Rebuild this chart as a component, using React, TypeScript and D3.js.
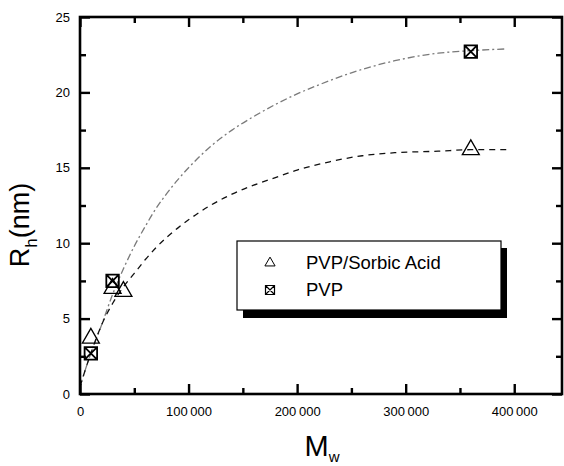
import { useEffect, useRef } from 'react';
import * as d3 from 'd3';

// measured points
const sorbicMw = [10000, 30000, 40000, 360000];
const sorbicRh = [3.7, 7.0, 6.8, 16.2];
const pvpMw = [10000, 30000, 360000];
const pvpRh = [2.7, 7.5, 22.7];

// fitted curves
const pvpFitMw = [0, 10000, 20000, 30000, 40000, 50000, 60000, 70000, 80000, 90000, 100000, 120000, 140000, 160000, 180000, 200000, 220000, 250000, 290000, 330000, 360000, 392000];
const pvpFitRh = [0.5, 2.7, 4.6, 6.6, 8.3, 9.8, 11.1, 12.3, 13.3, 14.2, 15.0, 16.4, 17.5, 18.4, 19.2, 19.9, 20.5, 21.3, 22.1, 22.6, 22.77, 22.88];
const sorbicFitMw = [0, 10000, 20000, 30000, 40000, 50000, 60000, 70000, 80000, 90000, 100000, 110000, 120000, 140000, 160000, 180000, 200000, 230000, 260000, 290000, 330000, 360000, 396000];
const sorbicFitRh = [0.5, 2.7, 4.6, 6.0, 7.1, 8.0, 8.9, 9.7, 10.4, 11.0, 11.55, 12.05, 12.5, 13.25, 13.85, 14.35, 14.85, 15.4, 15.8, 16.0, 16.1, 16.2, 16.2];

const xMajorTicks = [0, 100000, 200000, 300000, 400000];
const xMinorTicks = [50000, 150000, 250000, 350000];
const yMajorTicks = [0, 5, 10, 15, 20, 25];
const yMinorTicks = [2.5, 7.5, 12.5, 17.5, 22.5];
const legendLabels = ['PVP/Sorbic Acid', 'PVP'];

const FONT = '"Liberation Sans", Arial, Helvetica, sans-serif';

const App = () => {
    const svgRef = useRef<SVGSVGElement>(null);

    useEffect(() => {
        document.body.style.margin = '0';
        document.body.style.overflow = 'hidden';
        document.documentElement.style.overflow = 'hidden';

        const width = 564;
        const height = 466;
        const margin = { top: 17, right: 2, bottom: 72, left: 80 };

        const svg = d3.select(svgRef.current);
        svg.selectAll('*').remove();
        svg.attr('width', width).attr('height', height);

        const x = d3.scaleLinear().domain([0, 444000]).range([margin.left, width - margin.right]);
        const y = d3.scaleLinear().domain([0, 25]).range([height - margin.bottom, margin.top]);

        const x0 = x.range()[0];
        const x1 = x.range()[1];
        const y0 = y.range()[0];
        const y1 = y.range()[1];

        // ---------- fit curves ----------
        const line = d3
            .line<[number, number]>()
            .x((d) => x(d[0]))
            .y((d) => y(d[1]))
            .curve(d3.curveMonotoneX);

        svg.append('path')
            .attr('d', line(pvpFitMw.map((m, i) => [m, pvpFitRh[i]]) as [number, number][]))
            .attr('fill', 'none')
            .attr('stroke', '#7a7a7a')
            .attr('stroke-width', 1.3)
            .attr('stroke-dasharray', '7,3,2,3');

        svg.append('path')
            .attr('d', line(sorbicFitMw.map((m, i) => [m, sorbicFitRh[i]]) as [number, number][]))
            .attr('fill', 'none')
            .attr('stroke', '#111')
            .attr('stroke-width', 1.3)
            .attr('stroke-dasharray', '6,5');

        // ---------- markers ----------
        const tri = d3.symbol().type(d3.symbolTriangle);
        const boxX = (s: number) =>
            `M${-s / 2},${-s / 2}H${s / 2}V${s / 2}H${-s / 2}Z` +
            `M${-s / 2},${-s / 2}L${s / 2},${s / 2}M${s / 2},${-s / 2}L${-s / 2},${s / 2}`;

        svg.selectAll('.tri')
            .data(sorbicMw)
            .enter()
            .append('path')
            .attr('d', tri.size(125)()!)
            .attr('transform', (d, i) => `translate(${x(d)},${y(sorbicRh[i])})`)
            .attr('fill', 'none')
            .attr('stroke', '#000')
            .attr('stroke-width', 1.3);

        svg.selectAll('.box')
            .data(pvpMw)
            .enter()
            .append('path')
            .attr('d', boxX(12.5))
            .attr('transform', (d, i) => `translate(${x(d)},${y(pvpRh[i])})`)
            .attr('fill', 'none')
            .attr('stroke', '#000')
            .attr('stroke-width', 1.8);

        // ---------- legend ----------
        const lg = svg.append('g');
        lg.append('rect')
            .attr('x', 243).attr('y', 248).attr('width', 264).attr('height', 70)
            .attr('fill', '#000');
        lg.append('rect')
            .attr('x', 237).attr('y', 241).attr('width', 264).attr('height', 69)
            .attr('fill', '#fff').attr('stroke', '#000').attr('stroke-width', 1.2);
        lg.append('path')
            .attr('d', tri.size(45)()!)
            .attr('transform', 'translate(270,263)')
            .attr('fill', 'none').attr('stroke', '#000').attr('stroke-width', 1);
        lg.append('path')
            .attr('d', boxX(9))
            .attr('transform', 'translate(270,290)')
            .attr('fill', 'none').attr('stroke', '#000').attr('stroke-width', 1.2);
        legendLabels.forEach((t, i) => {
            lg.append('text')
                .attr('x', 306).attr('y', 269 + i * 27)
                .attr('font-family', FONT).attr('font-size', 18.5)
                .text(t);
        });

        // ---------- frame ----------
        svg.append('rect')
            .attr('x', x0).attr('y', y1)
            .attr('width', x1 - x0).attr('height', y0 - y1)
            .attr('fill', 'none')
            .attr('stroke', '#000')
            .attr('stroke-width', 2.6);

        // ---------- axes ----------
        const fmt = (v: d3.NumberValue) => {
            const n = +v;
            return n === 0 ? '0' : `${Math.round(n / 1000)}\u2009000`;
        };

        const styleAxis = (g: d3.Selection<SVGGElement, unknown, null, undefined>) => {
            g.select('.domain').remove();
            g.selectAll('.tick line').attr('stroke', '#000').attr('stroke-width', 2.4);
            g.selectAll('.tick text').attr('fill', '#000').attr('font-family', FONT).attr('font-size', 13);
        };

        const noLabel = () => '';

        svg.append('g')
            .attr('transform', `translate(0,${y0})`)
            .call(d3.axisBottom(x).tickValues(xMajorTicks).tickFormat(fmt).tickSizeInner(-10).tickSizeOuter(0).tickPadding(13))
            .call(styleAxis);
        svg.append('g')
            .attr('transform', `translate(0,${y0})`)
            .call(d3.axisBottom(x).tickValues(xMinorTicks).tickFormat(noLabel).tickSizeInner(-6).tickSizeOuter(0))
            .call(styleAxis);

        svg.append('g')
            .attr('transform', `translate(0,${y1})`)
            .call(d3.axisTop(x).tickValues(xMajorTicks).tickFormat(noLabel).tickSizeInner(-10).tickSizeOuter(0))
            .call(styleAxis);
        svg.append('g')
            .attr('transform', `translate(0,${y1})`)
            .call(d3.axisTop(x).tickValues(xMinorTicks).tickFormat(noLabel).tickSizeInner(-6).tickSizeOuter(0))
            .call(styleAxis);

        svg.append('g')
            .attr('transform', `translate(${x0},0)`)
            .call(d3.axisLeft(y).tickValues(yMajorTicks).tickSizeInner(-10).tickSizeOuter(0).tickPadding(10))
            .call(styleAxis);
        svg.append('g')
            .attr('transform', `translate(${x0},0)`)
            .call(d3.axisLeft(y).tickValues(yMinorTicks).tickFormat(noLabel).tickSizeInner(-6).tickSizeOuter(0))
            .call(styleAxis);

        svg.append('g')
            .attr('transform', `translate(${x1},0)`)
            .call(d3.axisRight(y).tickValues(yMajorTicks).tickFormat(noLabel).tickSizeInner(-10).tickSizeOuter(0))
            .call(styleAxis);
        svg.append('g')
            .attr('transform', `translate(${x1},0)`)
            .call(d3.axisRight(y).tickValues(yMinorTicks).tickFormat(noLabel).tickSizeInner(-6).tickSizeOuter(0))
            .call(styleAxis);

        // ---------- axis titles ----------
        const yt = svg.append('text')
            .attr('transform', 'translate(29,225) rotate(-90)')
            .attr('text-anchor', 'middle')
            .attr('font-family', FONT)
            .attr('font-size', 27);
        yt.append('tspan').text('R');
        yt.append('tspan').attr('font-size', 17).attr('dy', 8).text('h');
        yt.append('tspan').attr('dy', -8).text('(nm)');

        const xt = svg.append('text')
            .attr('x', 322).attr('y', 456)
            .attr('text-anchor', 'middle')
            .attr('font-family', FONT)
            .attr('font-size', 29);
        xt.append('tspan').text('M');
        xt.append('tspan').attr('font-size', 15).attr('dy', 6).text('w');
    }, []);

    return (
        <svg
            ref={svgRef}
            style={{ display: 'block', background: '#fff' }}
        ></svg>
    );
};

export default App;
